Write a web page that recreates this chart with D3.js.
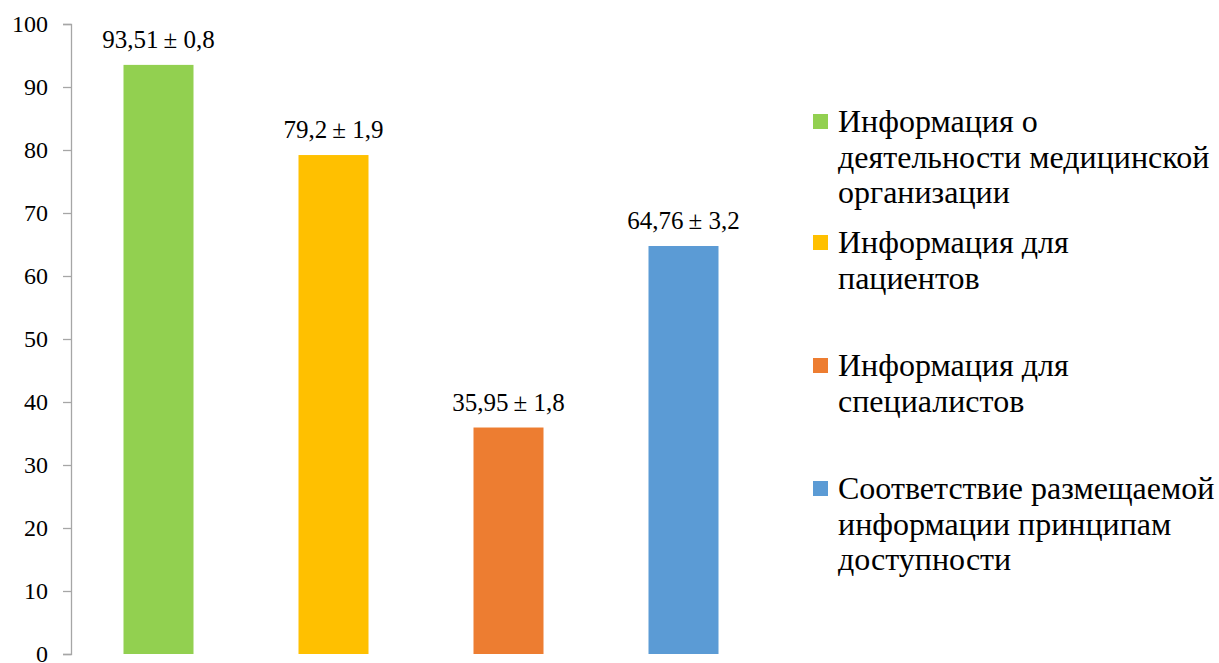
<!DOCTYPE html>
<html>
<head>
<meta charset="utf-8">
<script src="https://cdnjs.cloudflare.com/ajax/libs/d3/7.8.5/d3.min.js"></script>
<style>
body { margin: 0; background: #fff; }
svg text { font-family: "Liberation Serif", "Times New Roman", serif !important; fill: #000; }
</style>
</head>
<body>
<script>
var categories = ["Информация о деятельности медицинской организации",
                  "Информация для пациентов",
                  "Информация для специалистов",
                  "Соответствие размещаемой информации принципам доступности"];
var values = [93.51, 79.2, 35.95, 64.76];
var errors = ["0,8", "1,9", "1,8", "3,2"];
var valueLabels = ["93,51", "79,2", "35,95", "64,76"];
var colors = ["#92d050", "#ffc000", "#ed7d31", "#5b9bd5"];
var legendLines = [["Информация о", "деятельности медицинской", "организации"],
                   ["Информация для", "пациентов"],
                   ["Информация для", "специалистов"],
                   ["Соответствие размещаемой", "информации принципам", "доступности"]];
var yTicks = [0, 10, 20, 30, 40, 50, 60, 70, 80, 90, 100];

var serif = "'Liberation Serif', 'Times New Roman', serif";

var margin = {top: 24, left: 71};
var width = 700;
var height = 630;

var svg = d3.select("body").append("svg")
    .attr("width", 1219)
    .attr("height", 663);

var g = svg.append("g")
    .attr("transform", "translate(" + margin.left + "," + margin.top + ")");

var xScale = d3.scaleBand().domain(categories).range([0, width]).paddingInner(0.6).paddingOuter(0.3);
var yScale = d3.scaleLinear().domain([0, 100]).range([height, 0]);

// y axis
var yAxis = g.append("g")
    .call(d3.axisLeft(yScale).tickValues(yTicks).tickSize(8).tickPadding(15));
yAxis.attr("font-family", serif).attr("font-size", 24);
yAxis.select(".domain").attr("stroke", "#a6a6a6").attr("stroke-width", 1.3);
yAxis.selectAll(".tick line").attr("stroke", "#a6a6a6").attr("stroke-width", 1.3);
yAxis.selectAll(".tick text")
    .attr("dy", "0.3em")
    .attr("fill", "#000");

// bars
g.selectAll("rect.bar")
    .data(values)
    .enter()
    .append("rect")
    .attr("class", "bar")
    .attr("x", function(d, i) { return xScale(categories[i]); })
    .attr("y", function(d) { return yScale(d); })
    .attr("width", xScale.bandwidth())
    .attr("height", function(d) { return height - yScale(d); })
    .attr("fill", function(d, i) { return colors[i]; });

// value labels
g.selectAll("text.val")
    .data(values)
    .enter()
    .append("text")
    .attr("class", "val")
    .attr("x", function(d, i) { return xScale(categories[i]) + xScale.bandwidth() / 2; })
    .attr("y", function(d) { return yScale(d) - 17; })
    .attr("text-anchor", "middle")
    .attr("font-family", serif)
    .attr("font-size", 25)
    .text(function(d, i) { return valueLabels[i] + "\u2009± " + errors[i]; });

// legend
var legendBase = [132, 253, 376, 499];
var legend = svg.append("g").attr("transform", "translate(813,0)");
legendLines.forEach(function(lines, i) {
    legend.append("rect")
        .attr("x", 0)
        .attr("y", legendBase[i] - 18)
        .attr("width", 15)
        .attr("height", 15)
        .attr("fill", colors[i]);
    var t = legend.append("text")
        .attr("x", 25)
        .attr("y", legendBase[i])
        .attr("font-family", serif)
        .attr("font-size", 32);
    lines.forEach(function(line, j) {
        t.append("tspan")
            .attr("x", 25)
            .attr("dy", j === 0 ? 0 : 35.5)
            .text(line);
    });
});
</script>
</body>
</html>
